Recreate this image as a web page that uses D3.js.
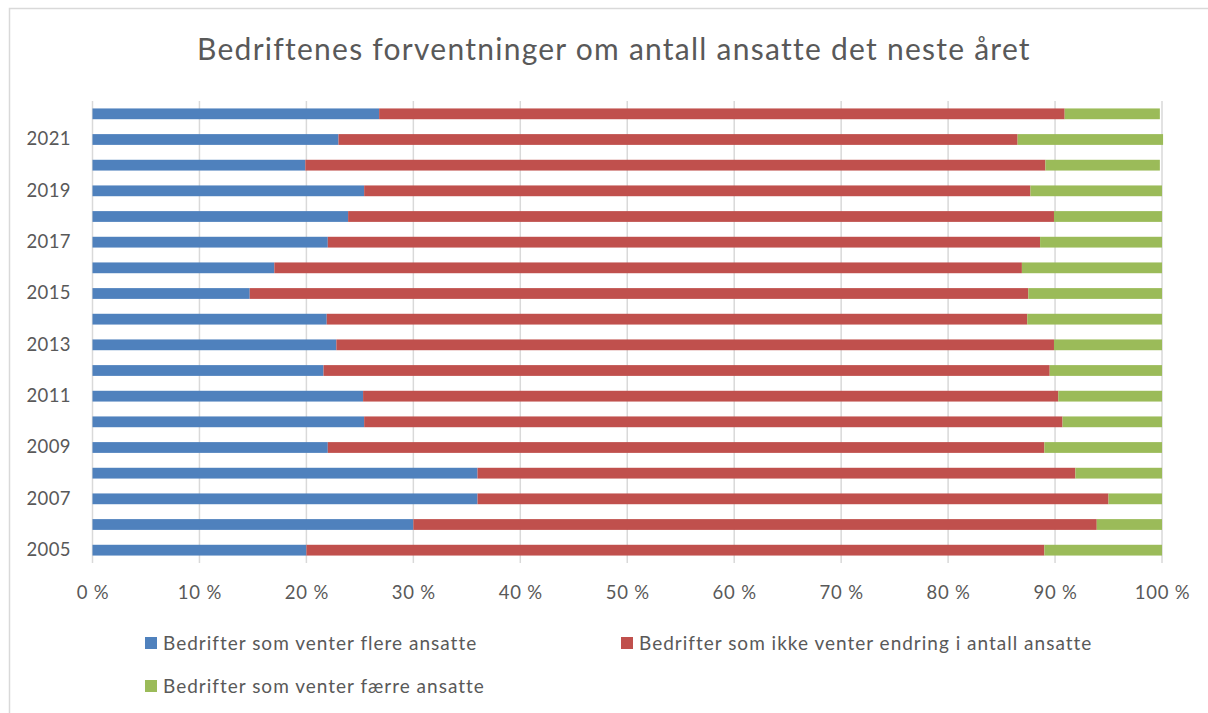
<!DOCTYPE html>
<html>
<head>
<meta charset="utf-8">
<script src="https://cdn.jsdelivr.net/npm/d3@7"></script>
<style>
  html, body { margin: 0; padding: 0; background: #fff; }
  svg { display: block; font-family: Lato, "Open Sans", sans-serif; }
</style>
</head>
<body>
<svg id="chart" width="1208" height="713"></svg>
<script>
const years = ["2005","2006","2007","2008","2009","2010","2011","2012","2013","2014","2015","2016","2017","2018","2019","2020","2021","2022"];
const flere = [20.0, 30.0, 36.0, 36.0, 22.0, 25.4, 25.3, 21.6, 22.8, 21.9, 14.7, 17.0, 22.0, 23.9, 25.4, 19.9, 23.0, 26.8];
const ingenEndring = [69.0, 63.9, 59.0, 55.9, 67.0, 65.3, 65.0, 67.9, 67.1, 65.5, 72.8, 69.9, 66.6, 66.0, 62.3, 69.2, 63.5, 64.1];
const faerre = [11.0, 6.1, 5.0, 8.1, 11.0, 9.3, 9.7, 10.5, 10.1, 12.6, 12.5, 13.1, 11.4, 10.1, 12.3, 10.7, 13.6, 8.9];
const seriesNames = ["Bedrifter som venter flere ansatte", "Bedrifter som ikke venter endring i antall ansatte", "Bedrifter som venter færre ansatte"];
const colors = ["#4F81BD", "#C0504D", "#9BBB59"];
const xTicks = [0,10,20,30,40,50,60,70,80,90,100];
const title = "Bedriftenes forventninger om antall ansatte det neste året";

(function () {
const svg = d3.select("#chart");
const textColor = "#595959";
const gridColor = "#D9D9D9";

// chart frame
svg.append("rect").attr("x", 9.5).attr("y", 8.5).attr("width", 1300).attr("height", 800)
  .attr("fill", "none").attr("stroke", gridColor).attr("stroke-width", 1.5);

const pLeft = 92.5, pRight = 1162, pTop = 101, pBottom = 563;
const x = d3.scaleLinear().domain([0, 100]).range([pLeft, pRight]);
const y = d3.scaleBand().domain(years.slice().reverse()).range([pTop, pBottom]).paddingInner(0.58).paddingOuter(0.29);

// title
svg.append("text").attr("x", 614).attr("y", 60).attr("text-anchor", "middle")
  .attr("fill", textColor).attr("font-size", 30).attr("letter-spacing", 1.25).text(title);

// gridlines
svg.append("g").selectAll("line").data(xTicks).join("line")
  .attr("x1", d => x(d)).attr("x2", d => x(d))
  .attr("y1", pTop).attr("y2", pBottom)
  .attr("stroke", gridColor).attr("stroke-width", 1.5);

// stacked data
const rows = years.map((yr, i) => ({year: yr, s0: flere[i], s1: ingenEndring[i], s2: faerre[i]}));
const stacked = d3.stack().keys(["s0","s1","s2"])(rows);

svg.append("g").selectAll("g").data(stacked).join("g")
  .attr("fill", (d, i) => colors[i])
  .selectAll("rect").data(d => d).join("rect")
  .attr("x", d => x(d[0]))
  .attr("width", d => x(d[1]) - x(d[0]))
  .attr("y", d => y(d.data.year))
  .attr("height", y.bandwidth());

// x axis labels
const xAxis = d3.axisBottom(x).tickValues(xTicks).tickFormat(d => d + " %").tickSize(0).tickPadding(0);
const gx = svg.append("g").attr("transform", `translate(0,${pBottom + 36})`).call(xAxis);
gx.select(".domain").remove();
gx.selectAll("text").attr("fill", textColor).attr("font-size", 18.5).attr("letter-spacing", 0.8)
  .attr("font-family", "Lato, sans-serif").attr("dy", "0");

// y axis labels (odd years only)
const yAxis = d3.axisLeft(y).tickValues(years.filter((d, i) => i % 2 === 0)).tickSize(0).tickPadding(0);
const gy = svg.append("g").attr("transform", `translate(71,0)`).call(yAxis);
gy.select(".domain").remove();
gy.selectAll("text").attr("fill", textColor).attr("font-size", 18.5).attr("letter-spacing", 0.4)
  .attr("font-family", "Lato, sans-serif");

// legend
const legendPos = [[145, 643], [621, 643], [145, 686]];
const lg = svg.append("g").selectAll("g").data(seriesNames).join("g")
  .attr("transform", (d, i) => `translate(${legendPos[i][0]},${legendPos[i][1]})`);
lg.append("rect").attr("x", 0).attr("y", -6).attr("width", 12).attr("height", 12).attr("fill", (d, i) => colors[i]);
lg.append("text").attr("x", 18).attr("y", 0).attr("dy", "0.35em").attr("fill", textColor)
  .attr("font-size", 19).attr("letter-spacing", 1.0).text(d => d);
})();
</script>
</body>
</html>
